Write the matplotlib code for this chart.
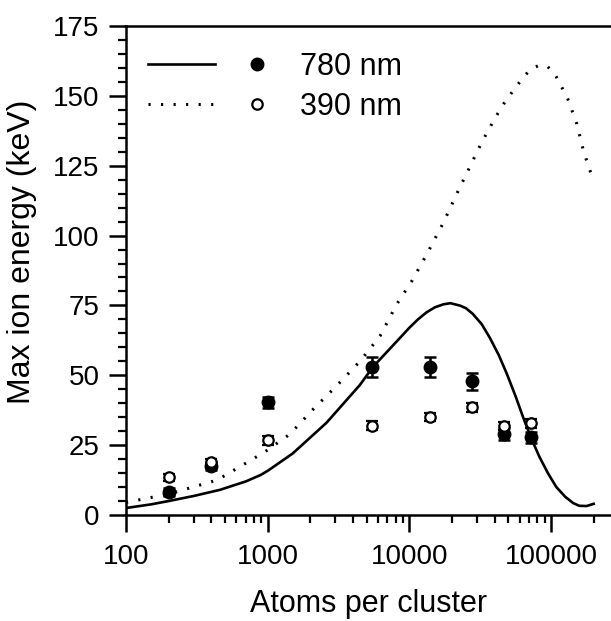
import numpy as np
import matplotlib.pyplot as plt
from matplotlib.ticker import FixedLocator, MultipleLocator, NullFormatter
from matplotlib.legend_handler import HandlerTuple

plt.rcParams['font.family'] = ['Liberation Sans', 'DejaVu Sans']

# measured points (Atoms per cluster, Max ion energy in keV)
atoms = [200, 400, 1000, 5450, 14000, 27700, 46500, 72000]
e780 = [8.2, 17.5, 40.3, 53, 53, 47.8, 29, 27.8]
e780_err = [1.5, 1.5, 2, 3.5, 3.5, 3, 2, 2]
e390 = [13.5, 18.8, 26.7, 32, 35, 38.5, 31.8, 32.8]
e390_err = [1.2, 1.2, 1.5, 1.5, 1.5, 1.5, 1.5, 1.5]

# model curves
model780_x = [100, 150, 200, 300, 460, 700, 890, 1000, 1500, 2600, 4470,
              5450, 5900, 7700, 10000, 11500, 13200, 15100, 17400, 19500,
              22900, 25100, 28000, 32400, 37000, 42700, 48700, 56200, 63500,
              72400, 83000, 95500, 109000, 126000, 143000, 158000, 178000,
              200000]
model780_y = [2.5, 3.8, 5, 6.8, 9, 12, 14.3, 15.8, 22, 33, 46.5,
              52.5, 54.5, 60.8, 67, 70, 72.5, 74.3, 75.4, 75.8,
              74.9, 74, 72, 68.3, 63.4, 57.3, 50.6, 42.5, 35,
              27.5, 20.7, 14.8, 10, 6.5, 4.3, 3.3, 3.2,
              4]
model390_x = [100, 200, 440, 950, 1440, 2090, 3130, 4480, 6200, 8170, 10400,
              13300, 17300, 22100, 26800, 30600, 35100, 41300, 47900, 58200,
              64500, 73000, 83500, 95000, 106700, 115600, 132000, 152000,
              168000, 182000, 191000]
model390_y = [4.5, 7.5, 12.5, 22.5, 29, 37.8, 46.7, 55, 64, 75.5, 83.7,
              93.4, 104.4, 116, 124.7, 130.8, 136.6, 143, 148.3, 154,
              157, 159.8, 161, 160.4, 157.6, 154.4, 148.6, 140,
              131, 125.4, 122.4]

fig = plt.figure(figsize=(6.11, 6.21), dpi=100)
ax = fig.add_axes([126 / 611, 106 / 621, 485 / 611, 489 / 621])

line780, = ax.plot(model780_x, model780_y, color='black', lw=1.9)
line390, = ax.plot(model390_x, model390_y, color='black', lw=2.2,
                   linestyle=(0, (0.7, 3.4)))

pts780 = ax.errorbar(atoms, e780, yerr=e780_err, fmt='o', color='black',
                     ms=9, capsize=4.5, capthick=1.8, elinewidth=1.8)
pts390 = ax.errorbar(atoms, e390, yerr=e390_err, fmt='o', color='black',
                     mfc='white', mec='black', mew=1.6, ms=7.5,
                     capsize=4, capthick=1.8, elinewidth=1.8)

ax.set_xscale('log')
ax.set_xlim(100, 2.65e5)
ax.set_ylim(0, 175)

ax.xaxis.set_major_locator(FixedLocator([100, 1000, 10000, 100000]))
ax.xaxis.set_minor_locator(FixedLocator(
    [m * 10 ** k for k in range(2, 6) for m in range(2, 10)
     if m * 10 ** k <= 2.1e5]))
ax.xaxis.set_minor_formatter(NullFormatter())
ax.set_xticklabels(['100', '1000', '10000', '100000'])
ax.yaxis.set_major_locator(MultipleLocator(25))
ax.yaxis.set_minor_locator(MultipleLocator(5))

ax.spines['right'].set_visible(False)
for s in ['left', 'bottom', 'top']:
    ax.spines[s].set_linewidth(1.8)

ax.tick_params(which='major', direction='out', length=12, width=1.8,
               labelsize=20)
ax.tick_params(which='minor', direction='out', length=6, width=1.6)
ax.tick_params(axis='x', which='major', pad=9)
ax.tick_params(axis='y', which='major', pad=7)
ax.tick_params(top=False, which='both')

ax.set_xlabel('Atoms per cluster', fontsize=22)
ax.set_ylabel('Max ion energy (keV)', fontsize=23)
ax.xaxis.set_label_coords(0.5, -0.152)
ax.yaxis.set_label_coords(-0.183, 0.538)

ax.legend([(line780, pts780[0]), (line390, pts390[0])], ['780 nm', '390 nm'],
          handler_map={tuple: HandlerTuple(ndivide=None, pad=0.29)},
          loc='upper left', bbox_to_anchor=(0.045, 0.947),
          frameon=False, fontsize=22, handlelength=4.67, handletextpad=0.3,
          labelspacing=0.32, borderpad=0, borderaxespad=0)

fig.savefig('out.png', dpi=100)
